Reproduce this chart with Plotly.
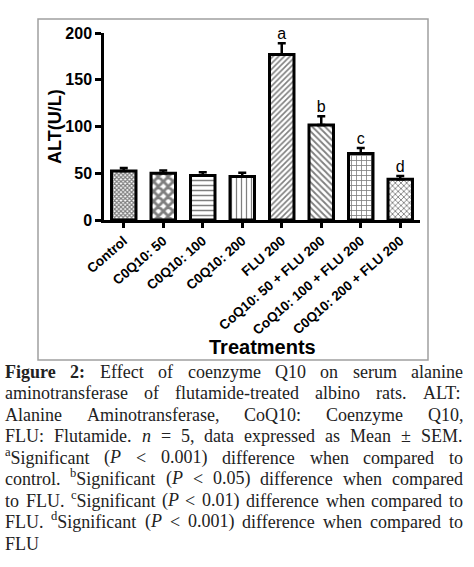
import re
import plotly.graph_objects as go

# --- data ---
treatments = [
    "Control", "C0Q10: 50", "C0Q10: 100", "C0Q10: 200", "FLU 200",
    "CoQ10: 50 + FLU 200", "CoQ10: 100 + FLU 200", "C0Q10: 200 + FLU 200",
]
alt_mean = [52.5, 50, 47.5, 46.5, 177, 101.5, 71, 43.5]
alt_sem = [3, 3, 3.5, 4, 12, 9.5, 6, 3.5]
sig_letters = ["", "", "", "", "a", "b", "c", "d"]

caption_lines = [
    "<b>Figure</b> <b>2:</b> Effect of coenzyme Q10 on serum alanine",
    "aminotransferase of flutamide-treated albino rats. ALT:",
    "Alanine Aminotransferase, CoQ10: Coenzyme Q10,",
    "FLU: Flutamide. <i>n</i> = 5, data expressed as Mean ± SEM.",
    "<sup>a</sup>Significant (<i>P</i> &lt; 0.001) difference when compared to",
    "control. <sup>b</sup>Significant (<i>P</i> &lt; 0.05) difference when compared",
    "to FLU. <sup>c</sup>Significant (<i>P</i> &lt; 0.01) difference when compared to",
    "FLU. <sup>d</sup>Significant (<i>P</i> &lt; 0.001) difference when compared to",
    "FLU",
]

# --- style ---
W, H = 474, 567
SANS = "Liberation Sans"
SERIF = "Liberation Serif"
CAP_SIZE = 18
patterns = ["x", "x", "-", "|", "/", "\\", "+", "x"]
pat_size = [3, 7, 5, 5, 4, 4.5, 5, 4]
pat_solid = [0.65, 0.65, 0.3, 0.25, 0.4, 0.4, 0.3, 0.4]


def px(x):
    return x / W


def py(y):
    return 1 - y / H


# Times / Liberation Serif advance widths (1/1000 em)
TIMES = {" ": 250, "(": 333, ")": 333, ",": 250, "-": 333, ".": 250, ":": 278,
         "<": 564, "=": 564, "±": 564}
TIMES.update({d: 500 for d in "0123456789"})
TIMES.update(dict(zip("ABCDEFGHIJKLMNOPQRSTUVWXYZ",
                      [722, 667, 667, 722, 611, 556, 722, 722, 333, 389, 722, 611, 889,
                       722, 722, 556, 722, 667, 556, 611, 722, 722, 944, 722, 722, 611])))
TIMES.update(dict(zip("abcdefghijklmnopqrstuvwxyz",
                      [444, 500, 444, 500, 444, 333, 500, 500, 278, 278, 500, 278, 778,
                       500, 500, 500, 500, 333, 389, 278, 500, 500, 722, 500, 500, 444])))
BOLD = {"F": 611, "u": 556, "r": 444, ":": 333}
ITALIC = {"P": 611}


def word_width(word, size):
    w, sup, bold, ital = 0, False, False, False
    for tok in re.split(r"(<[^>]+>)", word.replace("&lt;", "<")):
        if tok in ("<sup>", "</sup>", "<b>", "</b>", "<i>", "</i>"):
            on = not tok.startswith("</")
            if "sup" in tok:
                sup = on
            elif "b" in tok:
                bold = on
            else:
                ital = on
            continue
        for ch in tok:
            cw = TIMES.get(ch, 500)
            if bold:
                cw = BOLD.get(ch, cw)
            if ital:
                cw = ITALIC.get(ch, cw)
            w += cw * (0.7 if sup else 1.0)
    return w / 1000 * size


fig = go.Figure()

fig.add_trace(go.Bar(
    x=treatments,
    y=alt_mean,
    width=0.62,
    marker=dict(
        color="white",
        line=dict(color="black", width=3),
        pattern=dict(shape=patterns, size=pat_size, solidity=pat_solid,
                     fgcolor="black", bgcolor="white", fillmode="overlay"),
    ),
    error_y=dict(type="data", symmetric=False, array=alt_sem,
                 arrayminus=[0] * len(alt_sem), color="black", thickness=2.5, width=4),
    showlegend=False,
))

# significance letters, only where there is one
sig = [(t, m + s, l) for t, m, s, l in zip(treatments, alt_mean, alt_sem, sig_letters) if l]
fig.add_trace(go.Scatter(
    x=[p[0] for p in sig],
    y=[p[1] for p in sig],
    mode="text",
    text=[p[2] for p in sig],
    textposition="top center",
    textfont=dict(family=SANS, size=16, color="black"),
    showlegend=False,
    cliponaxis=False,
))

ann = [
    dict(text="<b>ALT(U/L)</b>", x=px(55), y=py(127), textangle=-90,
         xanchor="center", yanchor="middle",
         font=dict(family=SANS, size=18, color="black")),
    dict(text="<b>Treatments</b>", x=px(262), y=py(347),
         xanchor="center", yanchor="middle",
         font=dict(family=SANS, size=20, color="black")),
]

# caption, justified word by word
left, right = 4, 462
line_top, line_step = 371, 21.45
for i, line in enumerate(caption_lines):
    words = line.split(" ")
    widths = [word_width(w, CAP_SIZE) for w in words]
    if i < len(caption_lines) - 1 and len(words) > 1:
        gap = (right - left - sum(widths)) / (len(words) - 1)
    else:
        gap = 0.25 * CAP_SIZE
    x = left
    for w, wd in zip(words, widths):
        ann.append(dict(text=w, x=px(x), y=py(line_top + i * line_step + 12),
                        xanchor="left", yanchor="bottom", borderpad=0,
                        font=dict(family=SERIF, size=CAP_SIZE, color="#222")))
        x += wd + gap

for a in ann:
    a.setdefault("xref", "paper")
    a.setdefault("yref", "paper")
    a.setdefault("showarrow", False)

fig.update_layout(
    width=W, height=H, autosize=False,
    margin=dict(l=0, r=0, t=0, b=0),
    paper_bgcolor="white", plot_bgcolor="white",
    xaxis=dict(
        domain=[px(104), px(420)], range=[-0.5, 7.5], automargin=False,
        showline=True, linecolor="black", linewidth=2.5,
        ticks="outside", ticklen=5, tickwidth=2.5, tickcolor="black",
        tickangle=-41, showgrid=False,
        tickfont=dict(family=SANS, size=13.5, color="black", weight="bold"),
    ),
    yaxis=dict(
        domain=[py(220), py(33)], range=[0, 200], automargin=False,
        tickvals=[0, 50, 100, 150, 200],
        showline=True, linecolor="black", linewidth=2.5,
        ticks="outside", ticklen=6, tickwidth=2.5, tickcolor="black",
        showgrid=False, zeroline=False,
        tickfont=dict(family=SANS, size=16, color="black", weight="bold"),
    ),
    annotations=ann,
    shapes=[dict(type="rect", xref="paper", yref="paper",
                 x0=px(38), x1=px(428), y0=py(360), y1=py(19),
                 line=dict(color="#a0a0a0", width=1.5))],
)

# drop the browser's default page margin so the figure sits at the window corner
fig.write_html("out.html", config={"displayModeBar": False},
               post_script="document.body.style.margin = '0';")
